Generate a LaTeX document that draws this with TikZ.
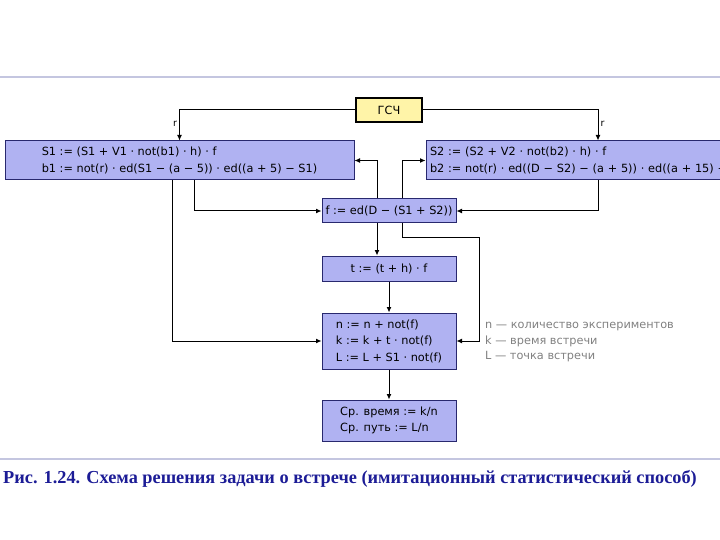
\documentclass[tikz,border=0pt]{standalone}
\usepackage{fontspec}
\setmainfont{Liberation Serif}
\newfontfamily\diagfont{DejaVu Sans}
\usetikzlibrary{arrows.meta, positioning, calc}
\definecolor{boxblue}{RGB}{176,178,242}
\definecolor{boxedge}{RGB}{40,40,110}
\definecolor{gsyellow}{RGB}{255,244,168}
\definecolor{rulegray}{RGB}{196,198,224}
\definecolor{legendgray}{RGB}{128,128,128}
\definecolor{capblue}{RGB}{28,28,150}

\begin{document}
\begin{tikzpicture}[
    x=1pt, y=-1pt,
    box/.style={rectangle, draw=boxedge, fill=boxblue, line width=1pt, inner sep=3pt,
                align=left, font=\diagfont\fontsize{11.3}{16.5}\selectfont},
    gen/.style={rectangle, draw=black, fill=gsyellow, line width=1.8pt,
                minimum width=66pt, minimum height=24pt, font=\diagfont\fontsize{11.3}{13}\selectfont},
    arrow/.style={-{Latex[length=5.5pt,width=5pt]}, line width=1pt},
    lbl/.style={font=\diagfont\fontsize{9.5}{11}\selectfont, inner sep=2pt},
    legend/.style={align=left, text=legendgray, anchor=north west,
                   font=\diagfont\fontsize{11.3}{15.5}\selectfont, inner sep=0pt}
]
\useasboundingbox (0,0) rectangle (720,540);
\clip (0,0) rectangle (720,540);

\draw[rulegray, line width=1.2pt] (0,77) -- (720,77);
\draw[rulegray, line width=1.2pt] (0,459) -- (720,459);

\node[gen] (gsch) at (389,110) {ГСЧ};
\node[box, minimum width=349pt, minimum height=39pt] (s1) at (179.5,160.5)
    {S1 := (S1 + V1 · not(b1) · h) · f\\b1 := not(r) · ed(S1 − (a − 5)) · ed((a + 5) − S1)};
\node[box, minimum width=344pt, minimum height=39pt, text width=336pt] (s2) at (598,160.5)
    {S2 := (S2 + V2 · not(b2) · h) · f\\b2 := not(r) · ed((D − S2) − (a + 5)) · ed((a + 15) − S2)};
\node[box, align=center, minimum width=134pt, minimum height=24pt] (f) at (389,211)
    {f := ed(D − (S1 + S2))};
\node[box, align=center, minimum width=134pt, minimum height=25pt] (t) at (389,268.5)
    {t := (t + h) · f};
\node[box, minimum width=134pt, minimum height=56pt] (n) at (389,341)
    {n := n + not(f)\\k := k + t · not(f)\\L := L + S1 · not(f)};
\node[box, minimum width=134pt, minimum height=41pt] (avg) at (389,420.5)
    {Ср. время := k/n\\Ср. путь := L/n};

\node[legend] (leg) at (485,322)
    {n — количество экспериментов\\k — время встречи\\L — точка встречи};

\draw[arrow] (gsch.west) -| node[lbl, pos=0.72, left] {r} (s1.north);
\draw[arrow] (gsch.east) -| node[lbl, pos=0.72, right] {r} (s2.north);

\draw[arrow] ($(s1.south)+(-7,0)$) |- (n.west);
\draw[arrow] ($(s1.south)+(15,0)$) |- (f.west);
\draw[arrow] (s2.south) |- (f.east);
\draw[arrow] ($(f.north)+(-12,0)$) |- (s1.east);
\draw[arrow] ($(f.north)+(13,0)$) |- (s2.west);
\draw[arrow] ($(f.south)+(-12,0)$) -- ($(t.north)+(-12,0)$);
\draw[arrow] ($(f.south)+(13,0)$) |- ($(f.south)+(90,14)$) |- (n.east);
\draw[arrow] (t.south) -- (n.north);
\draw[arrow] (n.south) -- (avg.north);

\node[anchor=west, text=capblue, font=\bfseries\fontsize{18.3}{22}\selectfont, inner sep=0pt] (cap) at (3,479)
    {Рис. 1.24. Схема решения задачи о встрече (имитационный статистический способ)};
\end{tikzpicture}
\end{document}
